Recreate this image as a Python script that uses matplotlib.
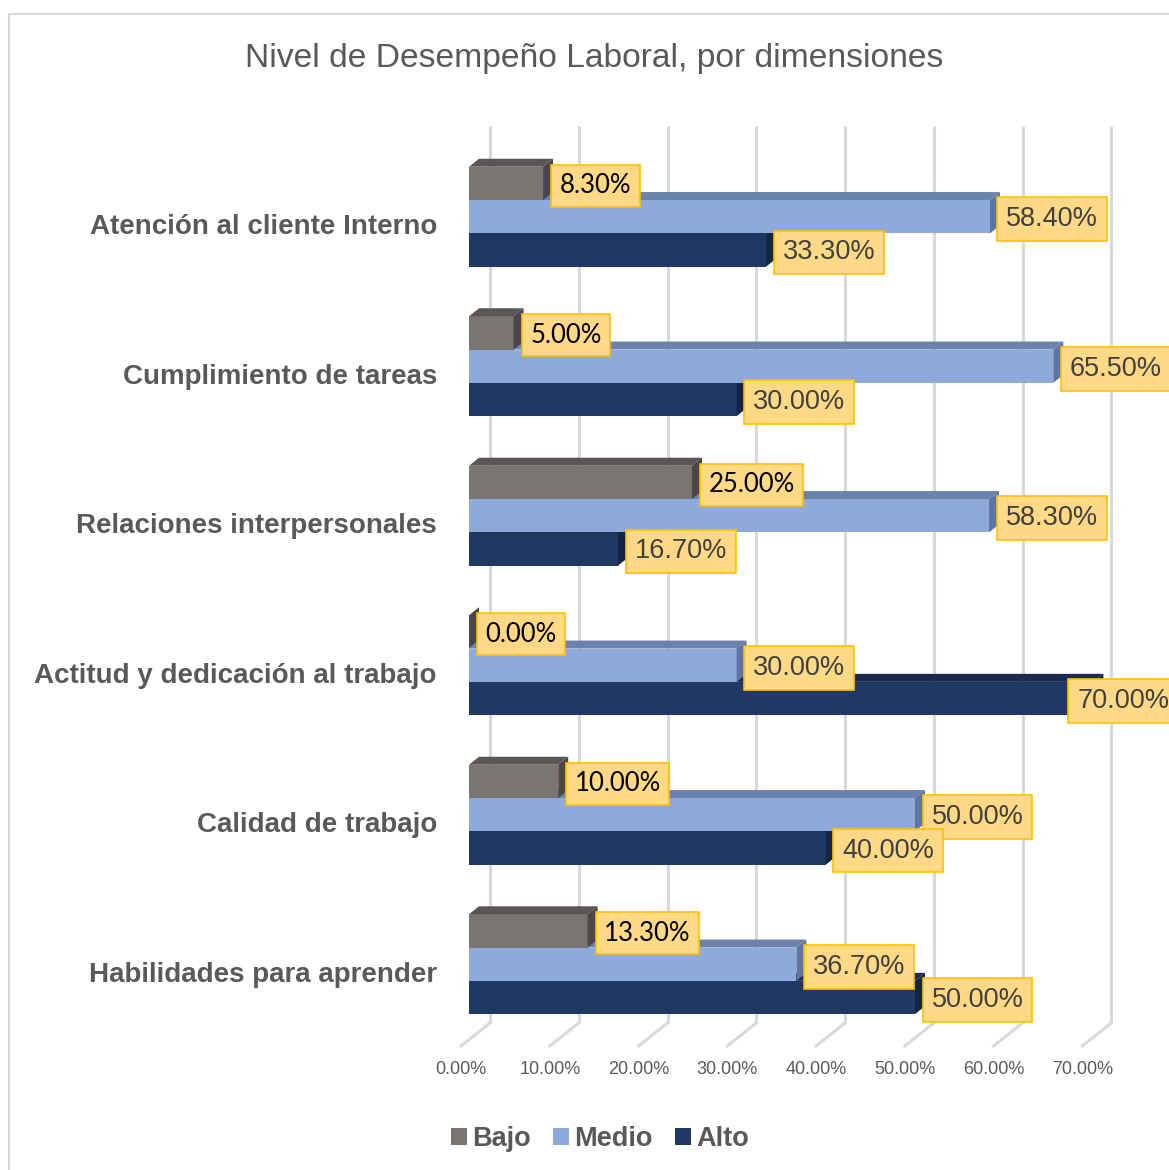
import matplotlib
matplotlib.use("Agg")
import matplotlib.pyplot as plt
from matplotlib.patches import Polygon, Rectangle, Patch

# data (percent)
categories = ["Atención al cliente Interno", "Cumplimiento de tareas",
              "Relaciones interpersonales", "Actitud y dedicación al trabajo",
              "Calidad de trabajo", "Habilidades para aprender"]
bajo = [8.3, 5.0, 25.0, 0.0, 10.0, 13.3]
medio = [58.4, 65.5, 58.3, 30.0, 50.0, 36.7]
alto = [33.3, 30.0, 16.7, 70.0, 40.0, 50.0]
series_names = ["Bajo", "Medio", "Alto"]
ticks = [0, 10, 20, 30, 40, 50, 60, 70]

# colours: front, top, side
cols = {
    "Bajo": ("#797573", "#5a5655", "#4b4746"),
    "Medio": ("#8eaadb", "#6b82ad", "#5d75a0"),
    "Alto": ("#1f3864", "#1a2b4f", "#152444"),
}
grey = "#595959"

W, H = 1169, 1170
fig = plt.figure(figsize=(W / 100, H / 100), dpi=100)
ax = fig.add_axes([0, 0, 1, 1])
ax.axis("off")

# pixel mapping: x0 at 469px, 8.92 px per %, groups 149.5 px apart
sx, sy = 8.92, 149.5
ax.set_xlim(-469 / sx, (W - 469) / sx)
ax.set_ylim((H - 216.7) / sy, -216.7 / sy)

h = 33.3 / sy           # bar thickness
DX, DY = 10 / sx, 8 / sy  # 3d depth
GX = 21 / sx            # back wall offset
wall = 0.995            # slight perspective of back wall

# back wall grid + floor lines
gtop, gbot = (126 - 216.7) / sy, (1023 - 216.7) / sy
fdx, fdy = -29 / sx, 23 / sy
for t in ticks:
    gx = t * wall + GX
    ax.plot([gx, gx], [gtop, gbot], color="#d9d9d9", lw=2.2, zorder=1,
            solid_capstyle="butt")
    ax.plot([gx, gx + fdx], [gbot, gbot + fdy], color="#d9d9d9", lw=2.2,
            zorder=1)
    ax.text(gx + fdx, (1070 - 216.7) / sy, f"{t:.2f}%", ha="center",
            va="center", fontsize=13, color=grey, family="Liberation Sans")


def bar3d(yc, v, name, z):
    front, top, side = cols[name]
    ax.barh(yc, v, height=h, left=0, color=front, zorder=z)
    yt, yb = yc - h / 2, yc + h / 2
    ax.add_patch(Polygon([(0, yt), (v, yt), (v + DX, yt - DY), (DX, yt - DY)],
                         closed=True, facecolor=top, edgecolor="none", zorder=z))
    ax.add_patch(Polygon([(v, yt), (v + DX, yt - DY), (v + DX, yb - DY), (v, yb)],
                         closed=True, facecolor=side, edgecolor="none", zorder=z))


box = dict(boxstyle="square,pad=0.33", facecolor="#ffd985", edgecolor="#ffc000", lw=1.2)
lab_off = 1.85
lab_max = 68.2   # labels near the right edge are pulled inward
lab_dy = 2.5 / sy
for i, cat in enumerate(categories):
    vals = {"Bajo": bajo[i], "Medio": medio[i], "Alto": alto[i]}
    offs = {"Bajo": -h, "Medio": 0.0, "Alto": h}
    # draw from bottom series up so upper bars hide lower top faces
    for k, name in enumerate(["Alto", "Medio", "Bajo"]):
        bar3d(i + offs[name], vals[name], name, 2 + k)
    for name in series_names:
        v = vals[name]
        x = min(v + lab_off, lab_max)
        if name == "Bajo":
            ax.text(x, i + offs[name] + lab_dy, f"{v:.2f}%", ha="left",
                    va="center", fontsize=18.5, color="black", family="Lato",
                    bbox=box, zorder=10)
        else:
            ax.text(x, i + offs[name] + lab_dy, f"{v:.2f}%", ha="left",
                    va="center", fontsize=19.5, color="#404040",
                    family="Liberation Sans", bbox=box, zorder=10)
    ax.text(-32 / sx, i + 10.5 / sy, cat, ha="right", va="center", fontsize=20,
            fontweight="bold", color=grey, family="Liberation Sans")

fig.text(594.5 / W, 1 - 58 / H, "Nivel de Desempeño Laboral, por dimensiones",
         ha="center", va="center", fontsize=24.2, color=grey,
         family="Liberation Sans")

handles = [Patch(facecolor=cols[n][0], edgecolor="none") for n in series_names]
leg = fig.legend(handles, series_names, loc="center", bbox_to_anchor=(600 / W, 1 - 1139 / H),
                 ncol=3, frameon=False, handlelength=0.6, handleheight=0.6,
                 handletextpad=0.2, columnspacing=0.8,
                 prop=dict(family="Liberation Sans", weight="bold", size=19.5))
for t in leg.get_texts():
    t.set_color(grey)

fig.add_artist(Rectangle((9 / W, -0.1), 1.2, 1.1 - 14 / H, transform=fig.transFigure,
                         fill=False, edgecolor="#d9d9d9", lw=1.5))

fig.savefig("out.png", dpi=100)
